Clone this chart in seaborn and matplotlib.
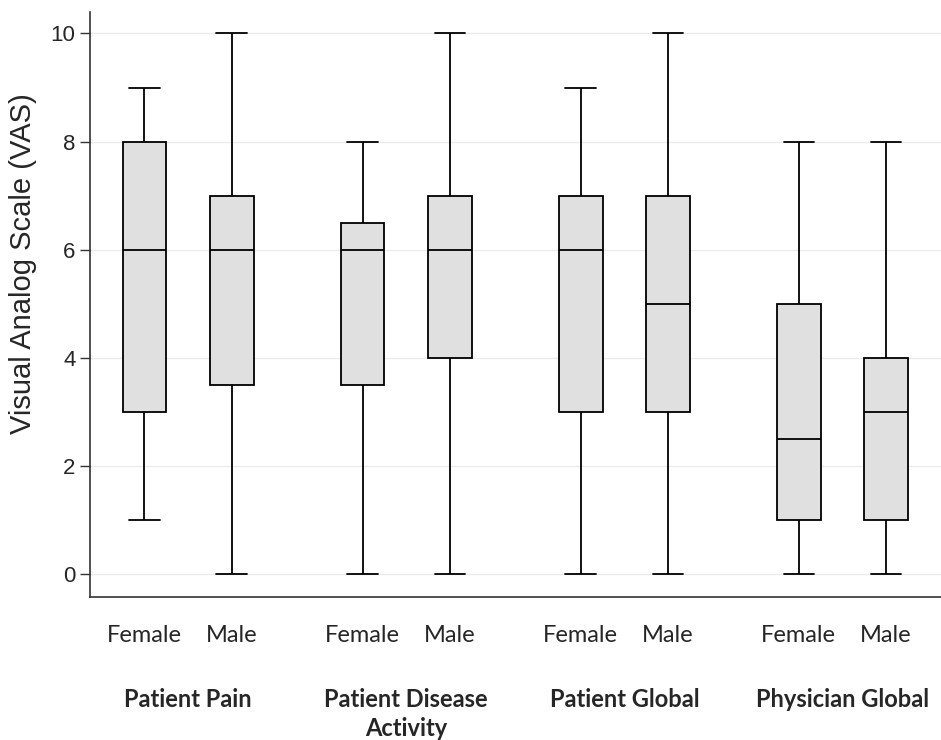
import pandas as pd
import matplotlib.pyplot as plt
import seaborn as sns

# five-number summaries: min, q1, median, q3, max
groups = ["Patient Pain", "Patient Disease\nActivity", "Patient Global", "Physician Global"]
sexes = ["Female", "Male"]
summary = {
    ("Patient Pain", "Female"): [1, 3, 6, 8, 9],
    ("Patient Pain", "Male"): [0, 3.5, 6, 7, 10],
    ("Patient Disease\nActivity", "Female"): [0, 3.5, 6, 6.5, 8],
    ("Patient Disease\nActivity", "Male"): [0, 4, 6, 7, 10],
    ("Patient Global", "Female"): [0, 3, 6, 7, 9],
    ("Patient Global", "Male"): [0, 3, 5, 7, 10],
    ("Physician Global", "Female"): [0, 1, 2.5, 5, 8],
    ("Physician Global", "Male"): [0, 1, 3, 4, 8],
}

rows = []
for (g, s), vals in summary.items():
    for v in vals:
        rows.append({"group": g, "sex": s, "vas": v})
df = pd.DataFrame(rows)

sns.set_style("white")
plt.rcParams["font.family"] = ["Liberation Sans", "DejaVu Sans"]

fig = plt.figure(figsize=(9.41, 7.4), dpi=100)
ax = fig.add_axes([0.0956, 0.193, 0.904, 0.791])

ax.yaxis.grid(True, color="#ebebeb", linewidth=1)
ax.set_axisbelow(True)

sns.boxplot(
    data=df, x="group", y="vas", hue="sex",
    order=groups, hue_order=sexes,
    whis=(0, 100), width=0.8, gap=0.5,
    palette=["#e0e0e0", "#e0e0e0"],
    linecolor="black", linewidth=1.3,
    capwidths=0.14,
    legend=False, ax=ax,
)

ax.set_xlim(-0.45, 3.45)
ax.set_ylim(-0.42, 10.4)
ax.set_yticks([0, 2, 4, 6, 8, 10])
ax.tick_params(axis="y", labelsize=16, length=7, width=1, color="#333333", direction="out", left=True)

pos = []
labs = []
for i in range(len(groups)):
    pos += [i - 0.2, i + 0.2]
    labs += sexes
ax.set_xticks(pos)
ax.set_xticklabels(labs, fontsize=17, family="Lato")
ax.tick_params(axis="x", length=0, pad=20)
ax.set_xlabel("")
ax.set_ylabel("Visual Analog Scale (VAS)", fontsize=21, labelpad=10, y=0.57)

for i, g in enumerate(groups):
    ax.text(i, -0.155, g, transform=ax.get_xaxis_transform(), ha="center", va="top",
            fontsize=17, fontweight="bold", family="Lato", linespacing=1.3)

sns.despine(ax=ax)
for sp in ["left", "bottom"]:
    ax.spines[sp].set_color("#333333")
    ax.spines[sp].set_linewidth(1.2)

fig.savefig("out.png", dpi=100)
